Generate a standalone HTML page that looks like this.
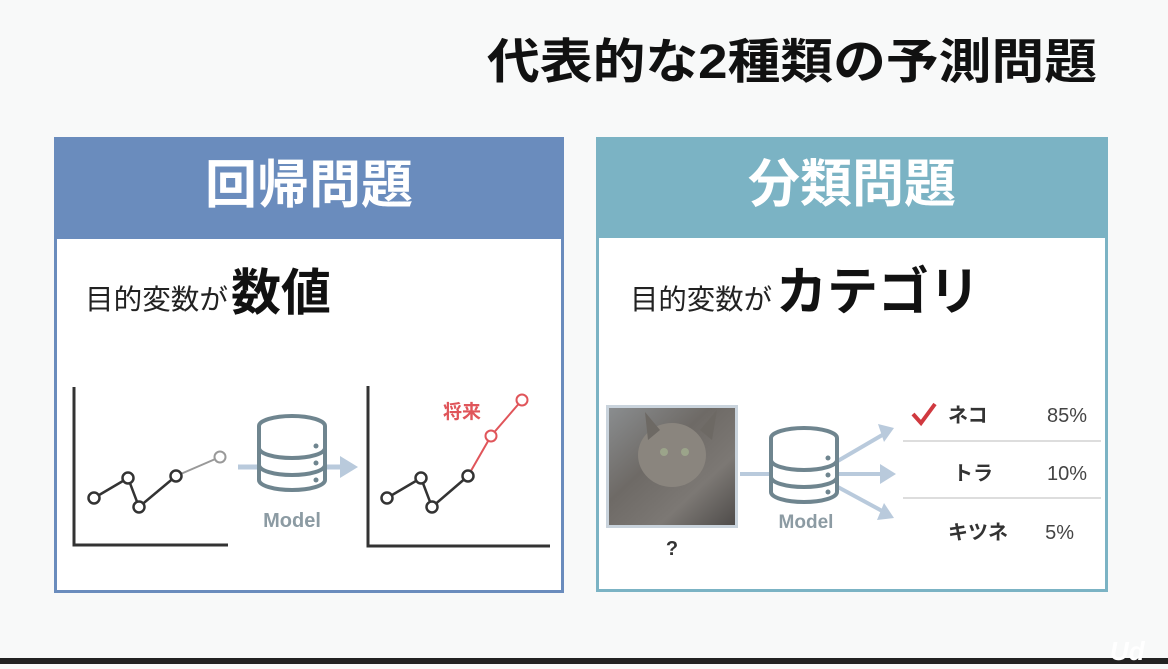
<!DOCTYPE html>
<html><head><meta charset="utf-8"><style>
html,body{margin:0;padding:0;}
body{width:1168px;height:664px;background:#f8f9f9;overflow:hidden;font-family:"Liberation Sans","Noto Sans CJK JP",sans-serif;}
svg text{font-family:"Liberation Sans","Noto Sans CJK JP",sans-serif;}
</style></head><body>
<svg width="1168" height="664" viewBox="0 0 1168 664" xmlns="http://www.w3.org/2000/svg">
<defs>
<linearGradient id="cat" x1="0" y1="0" x2="1" y2="1">
<stop offset="0" stop-color="#8a8d8f"/><stop offset="0.4" stop-color="#6e6a66"/><stop offset="0.7" stop-color="#7c7874"/><stop offset="1" stop-color="#4f4c4a"/>
</linearGradient>
<g id="db">
<ellipse cx="0" cy="-26" rx="33" ry="10" fill="#fff" stroke="#6f858f" stroke-width="4"/>
<path d="M-33,-26 V28 A33,10 0 0 0 33,28 V-26" fill="#fff" stroke="#6f858f" stroke-width="4"/>
<path d="M-33,-4 A33,10 0 0 0 33,-4 M-33,13 A33,10 0 0 0 33,13" fill="none" stroke="#6f858f" stroke-width="4"/>
<circle cx="24" cy="-6" r="2.5" fill="#6f858f"/><circle cx="24" cy="11" r="2.5" fill="#6f858f"/><circle cx="24" cy="28" r="2.5" fill="#6f858f"/>
</g>
</defs>
<rect x="0" y="0" width="1168" height="664" fill="#f8f9f9"/>
<rect x="0" y="658" width="1168" height="6" fill="#222"/>
<text x="792" y="78" font-size="48" font-weight="bold" text-anchor="middle" fill="#111" textLength="610" lengthAdjust="spacingAndGlyphs">代表的な2種類の予測問題</text>

<!-- left box -->
<rect x="55.5" y="138.5" width="507" height="453" fill="#fff" stroke="#6a8cbd" stroke-width="3"/>
<rect x="54" y="137" width="510" height="102" fill="#6a8cbd"/>
<text x="309" y="203" font-size="52" font-weight="bold" text-anchor="middle" fill="#fff">回帰問題</text>
<text x="85" y="309" font-size="28" fill="#222" textLength="143" lengthAdjust="spacingAndGlyphs">目的変数が</text>
<text x="231" y="310" font-size="50" font-weight="bold" fill="#111">数値</text>

<path d="M74,387 V545 H228" fill="none" stroke="#333" stroke-width="3"/>
<polyline points="176,476 220,457" fill="none" stroke="#999" stroke-width="2"/>
<polyline points="94,498 128,478 139,507 176,476" fill="none" stroke="#333" stroke-width="2.5"/>
<g fill="#fff" stroke="#333" stroke-width="2.5">
<circle cx="94" cy="498" r="5.5"/><circle cx="128" cy="478" r="5.5"/><circle cx="139" cy="507" r="5.5"/><circle cx="176" cy="476" r="5.5"/>
</g>
<circle cx="220" cy="457" r="5.5" fill="#fff" stroke="#999" stroke-width="2"/>

<line x1="238" y1="467" x2="346" y2="467" stroke="#b9cadc" stroke-width="5"/>
<polygon points="340,456 358,467 340,478" fill="#b9cadc"/>
<use href="#db" x="292" y="452"/>
<text x="292" y="527" font-size="20" font-weight="bold" text-anchor="middle" fill="#8c9ba3">Model</text>

<path d="M368,386 V546 H550" fill="none" stroke="#333" stroke-width="3"/>
<polyline points="468,476 491,436 522,400" fill="none" stroke="#e0555a" stroke-width="2"/>
<polyline points="387,498 421,478 432,507 468,476" fill="none" stroke="#333" stroke-width="2.5"/>
<g fill="#fff" stroke="#333" stroke-width="2.5">
<circle cx="387" cy="498" r="5.5"/><circle cx="421" cy="478" r="5.5"/><circle cx="432" cy="507" r="5.5"/><circle cx="468" cy="476" r="5.5"/>
</g>
<g fill="#fff" stroke="#e0555a" stroke-width="2">
<circle cx="491" cy="436" r="5.5"/><circle cx="522" cy="400" r="5.5"/>
</g>
<text x="443" y="418" font-size="19" font-weight="bold" fill="#e0555a">将来</text>

<!-- right box -->
<rect x="597.5" y="138.5" width="509" height="452" fill="#fff" stroke="#7bb3c4" stroke-width="3"/>
<rect x="596" y="137" width="512" height="101" fill="#7bb3c4"/>
<text x="852" y="202" font-size="52" font-weight="bold" text-anchor="middle" fill="#fff">分類問題</text>
<text x="630" y="309" font-size="28" fill="#222" textLength="142" lengthAdjust="spacingAndGlyphs">目的変数が</text>
<text x="776" y="310" font-size="52" font-weight="bold" fill="#111" textLength="204" lengthAdjust="spacingAndGlyphs">カテゴリ</text>

<rect x="606" y="405" width="132" height="123" fill="#c9d3dc"/>
<rect x="609" y="408" width="126" height="117" fill="url(#cat)"/>
<ellipse cx="672" cy="455" rx="34" ry="32" fill="#8a857e"/>
<polygon points="645,412 660,430 648,440" fill="#6d6964"/>
<polygon points="717,410 700,430 712,440" fill="#6d6964"/>
<circle cx="664" cy="452" r="4" fill="#9ba48a"/><circle cx="685" cy="452" r="4" fill="#9ba48a"/>
<text x="672" y="555" font-size="20" font-weight="bold" text-anchor="middle" fill="#333">?</text>

<line x1="740" y1="474" x2="780" y2="474" stroke="#b9cadc" stroke-width="4"/>
<g stroke="#b9cadc" stroke-width="4">
<line x1="836" y1="462" x2="884" y2="434"/>
<line x1="836" y1="474" x2="884" y2="474"/>
<line x1="836" y1="486" x2="884" y2="512"/>
</g>
<polygon points="878,424 894,428 884,442" fill="#b9cadc"/>
<polygon points="880,464 896,474 880,484" fill="#b9cadc"/>
<polygon points="884,503 894,518 877,520" fill="#b9cadc"/>
<use href="#db" x="804" y="464"/>
<text x="806" y="528" font-size="19" font-weight="bold" text-anchor="middle" fill="#8c9ba3">Model</text>

<polyline points="913,414 921,423 935,404" fill="none" stroke="#d0393f" stroke-width="4"/>
<text x="948" y="422" font-size="20" font-weight="bold" fill="#333">ネコ</text>
<text x="1087" y="422" font-size="20" text-anchor="end" fill="#444">85%</text>
<line x1="903" y1="441" x2="1101" y2="441" stroke="#ddd" stroke-width="2"/>
<text x="953" y="480" font-size="20" font-weight="bold" fill="#333">トラ</text>
<text x="1087" y="480" font-size="20" text-anchor="end" fill="#444">10%</text>
<line x1="903" y1="498" x2="1101" y2="498" stroke="#ddd" stroke-width="2"/>
<text x="948" y="539" font-size="20" font-weight="bold" fill="#333">キツネ</text>
<text x="1074" y="539" font-size="20" text-anchor="end" fill="#444">5%</text>

<text x="1110" y="660" font-size="26" font-weight="bold" font-style="italic" fill="#fff">Ud</text>
</svg>
</body></html>
